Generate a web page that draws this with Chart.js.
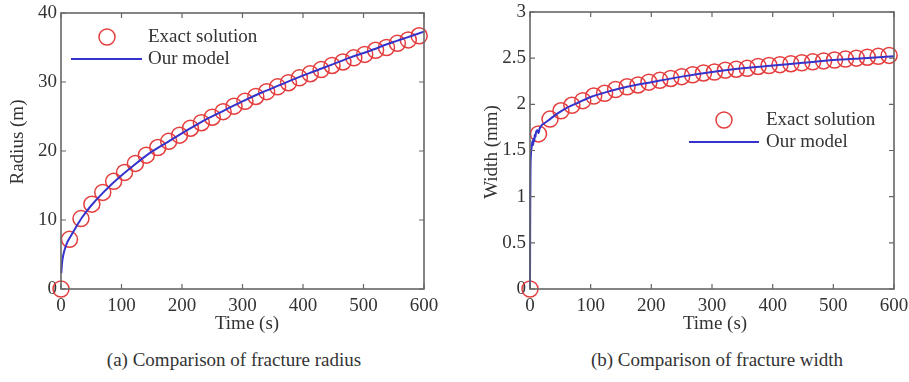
<!DOCTYPE html>
<html lang="en">
<head>
    <meta charset="UTF-8">
    <title>Fracture radius and width</title>
    <script src="https://cdn.jsdelivr.net/npm/chart.js"></script>
    <style>
        body { margin: 0; background: #fff; width: 909px; height: 382px; position: relative; overflow: hidden; }
        .panel { position: absolute; top: 0; height: 340px; }
        .caption { position: absolute; top: 349px; font: 19px "Liberation Serif", serif; color: #333; white-space: nowrap; transform: translateX(-50%); }
    </style>
</head>
<body>

<div class="panel" style="left:0; width:450px;"><canvas id="radiusChart"></canvas></div>
<div class="panel" style="left:455px; width:454px;"><canvas id="widthChart"></canvas></div>

<div class="caption" style="left:234px;">(a) Comparison of fracture radius</div>
<div class="caption" style="left:717px;">(b) Comparison of fracture width</div>

<script>
    // exact solution samples (same times for both panels)
    const timeExact = [0, 14, 33, 51, 69, 87, 105, 123, 141, 160, 178, 196, 214, 232, 250, 268, 286,
        304, 322, 340, 358, 376, 394, 412, 430, 448, 466, 484, 502, 520, 538, 556, 574, 592];
    const radiusExact = [0, 7.2, 10.2, 12.3, 14.0, 15.6, 16.9, 18.2, 19.4, 20.5, 21.4, 22.3, 23.3, 24.1,
        24.9, 25.7, 26.5, 27.2, 27.9, 28.6, 29.3, 29.9, 30.6, 31.2, 31.8, 32.4, 32.9, 33.5, 34.0, 34.6,
        35.0, 35.6, 36.1, 36.7];
    const widthExact = [0, 1.68, 1.84, 1.93, 1.99, 2.04, 2.09, 2.12, 2.16, 2.19, 2.21, 2.24, 2.26, 2.28,
        2.30, 2.32, 2.34, 2.35, 2.37, 2.38, 2.39, 2.41, 2.42, 2.43, 2.44, 2.45, 2.46, 2.47, 2.48, 2.49,
        2.50, 2.51, 2.52, 2.53];

    // our model curves
    const timeModelR = [0.5, 2, 5, 10, 15, 25, 35, 50, 70, 90, 120, 150, 180, 210, 240, 270, 300, 330,
        360, 390, 420, 450, 480, 510, 540, 570, 600];
    const radiusModel = [2.3, 4.0, 5.4, 6.7, 7.5, 9.0, 10.4, 12.1, 14.0, 15.7, 17.9, 19.9, 21.5, 23.1,
        24.6, 25.9, 27.2, 28.4, 29.5, 30.6, 31.6, 32.6, 33.6, 34.5, 35.5, 36.4, 37.3];
    const timeModelW = [0, 0.3, 0.7, 1, 1.5, 2, 3, 4, 5, 6, 7, 8, 9, 10, 12, 14, 16, 18, 20, 25, 33, 45,
        60, 80, 100, 130, 160, 200, 250, 300, 350, 400, 450, 500, 550, 600];
    const widthModel = [0, 0.7, 1.2, 1.38, 1.45, 1.5, 1.55, 1.6, 1.56, 1.63, 1.6, 1.67, 1.65, 1.7, 1.72,
        1.69, 1.74, 1.76, 1.78, 1.8, 1.84, 1.9, 1.96, 2.02, 2.08, 2.14, 2.19, 2.24, 2.3, 2.35, 2.39, 2.42,
        2.45, 2.48, 2.5, 2.52];

    const xTicks = [0, 100, 200, 300, 400, 500, 600];
    const radiusTicks = [0, 10, 20, 30, 40];
    const widthTicks = [0, 0.5, 1, 1.5, 2, 2.5, 3];

    const RED = 'rgb(228, 62, 62)';
    const BLUE = 'rgb(52, 52, 205)';
    const TEXT = '#333';
    const FONT = '"Liberation Serif", serif';

    function pairs(xs, ys) {
        return xs.map(function(x, i) { return {x: x, y: ys[i]}; });
    }

    // MATLAB-like box with inward ticks, axis titles and in-plot legend
    function decorPlugin(opt) {
        return {
            id: 'decor',
            afterDraw: function(chart) {
                const ctx = chart.ctx;
                const a = chart.chartArea;
                const xs = chart.scales.x, ys = chart.scales.y;
                ctx.save();
                ctx.strokeStyle = '#666';
                ctx.lineWidth = 1.2;
                ctx.beginPath();
                xs.ticks.forEach(function(t) {
                    const px = xs.getPixelForValue(t.value);
                    ctx.moveTo(px, a.bottom); ctx.lineTo(px, a.bottom - 5);
                    ctx.moveTo(px, a.top); ctx.lineTo(px, a.top + 5);
                });
                ys.ticks.forEach(function(t) {
                    const py = ys.getPixelForValue(t.value);
                    ctx.moveTo(a.left, py); ctx.lineTo(a.left + 5, py);
                    ctx.moveTo(a.right, py); ctx.lineTo(a.right - 5, py);
                });
                ctx.stroke();
                ctx.lineWidth = 1.6;
                ctx.strokeRect(a.left, a.top, a.right - a.left, a.bottom - a.top);

                ctx.fillStyle = TEXT;
                ctx.font = '19px ' + FONT;
                ctx.textAlign = 'center';
                ctx.textBaseline = 'middle';
                ctx.fillText('Time (s)', opt.xTitle[0], opt.xTitle[1]);
                ctx.save();
                ctx.translate(opt.yTitle[0], opt.yTitle[1]);
                ctx.rotate(-Math.PI / 2);
                ctx.fillText(opt.yText, 0, 0);
                ctx.restore();

                // legend
                const lg = opt.legend;
                ctx.strokeStyle = RED;
                ctx.lineWidth = 1.5;
                ctx.beginPath();
                ctx.arc(lg.circle[0], lg.circle[1], 8, 0, Math.PI * 2);
                ctx.stroke();
                ctx.strokeStyle = BLUE;
                ctx.lineWidth = 2;
                ctx.beginPath();
                ctx.moveTo(lg.line[0], lg.line[2]);
                ctx.lineTo(lg.line[1], lg.line[2]);
                ctx.stroke();
                ctx.textAlign = 'left';
                ctx.fillText('Exact solution', lg.textX, lg.circle[1]);
                ctx.fillText('Our model', lg.textX, lg.line[2]);
                ctx.restore();
            }
        };
    }

    function makeChart(id, cfg) {
        return new Chart(document.getElementById(id), {
            type: 'scatter',
            data: {
                datasets: [{
                    label: 'Our model',
                    data: pairs(cfg.modelX, cfg.modelY),
                    showLine: true,
                    borderColor: BLUE,
                    borderWidth: 2,
                    pointRadius: 0,
                    tension: 0.3,
                    clip: false
                }, {
                    label: 'Exact solution',
                    data: pairs(timeExact, cfg.exactY),
                    showLine: false,
                    pointStyle: 'circle',
                    pointRadius: 8,
                    pointBorderColor: RED,
                    pointBackgroundColor: 'rgba(0,0,0,0)',
                    pointBorderWidth: 1.5,
                    clip: false
                }]
            },
            options: {
                responsive: true,
                maintainAspectRatio: false,
                animation: false,
                layout: { padding: cfg.padding },
                plugins: { legend: { display: false }, tooltip: { enabled: false } },
                scales: {
                    x: {
                        type: 'linear', min: 0, max: 600,
                        afterBuildTicks: function(s) { s.ticks = xTicks.map(function(v) { return {value: v}; }); },
                        afterFit: function(s) { s.height = cfg.xHeight; s.paddingLeft = 0; s.paddingRight = 0; },
                        grid: { display: false, drawTicks: false },
                        border: { display: false },
                        ticks: {
                            color: TEXT, font: { family: FONT, size: 19 }, padding: 6, maxRotation: 0,
                            callback: function(v) { return String(v); }
                        }
                    },
                    y: {
                        type: 'linear', min: cfg.yTicks[0], max: cfg.yTicks[cfg.yTicks.length - 1],
                        afterBuildTicks: function(s) { s.ticks = cfg.yTicks.map(function(v) { return {value: v}; }); },
                        afterFit: function(s) { s.width = cfg.yWidth; s.paddingTop = 0; s.paddingBottom = 0; },
                        grid: { display: false, drawTicks: false },
                        border: { display: false },
                        ticks: {
                            color: TEXT, font: { family: FONT, size: 19 }, padding: 4,
                            callback: function(v) { return String(v); }
                        }
                    }
                }
            },
            plugins: [decorPlugin(cfg.decor)]
        });
    }

    makeChart('radiusChart', {
        modelX: timeModelR, modelY: radiusModel, exactY: radiusExact, yTicks: radiusTicks,
        padding: { left: 0, right: 26, top: 13, bottom: 0 }, yWidth: 61, xHeight: 51,
        decor: {
            yText: 'Radius (m)', yTitle: [18, 142], xTitle: [247, 324],
            legend: { circle: [107, 37], line: [71, 142, 59], textX: 148 }
        }
    });

    makeChart('widthChart', {
        modelX: timeModelW, modelY: widthModel, exactY: widthExact, yTicks: widthTicks,
        padding: { left: 0, right: 15, top: 12, bottom: 0 }, yWidth: 75, xHeight: 51,
        decor: {
            yText: 'Width (mm)', yTitle: [37, 152], xTitle: [260, 324],
            legend: { circle: [269, 120], line: [234, 304, 142], textX: 311 }
        }
    });
</script>

</body>
</html>
